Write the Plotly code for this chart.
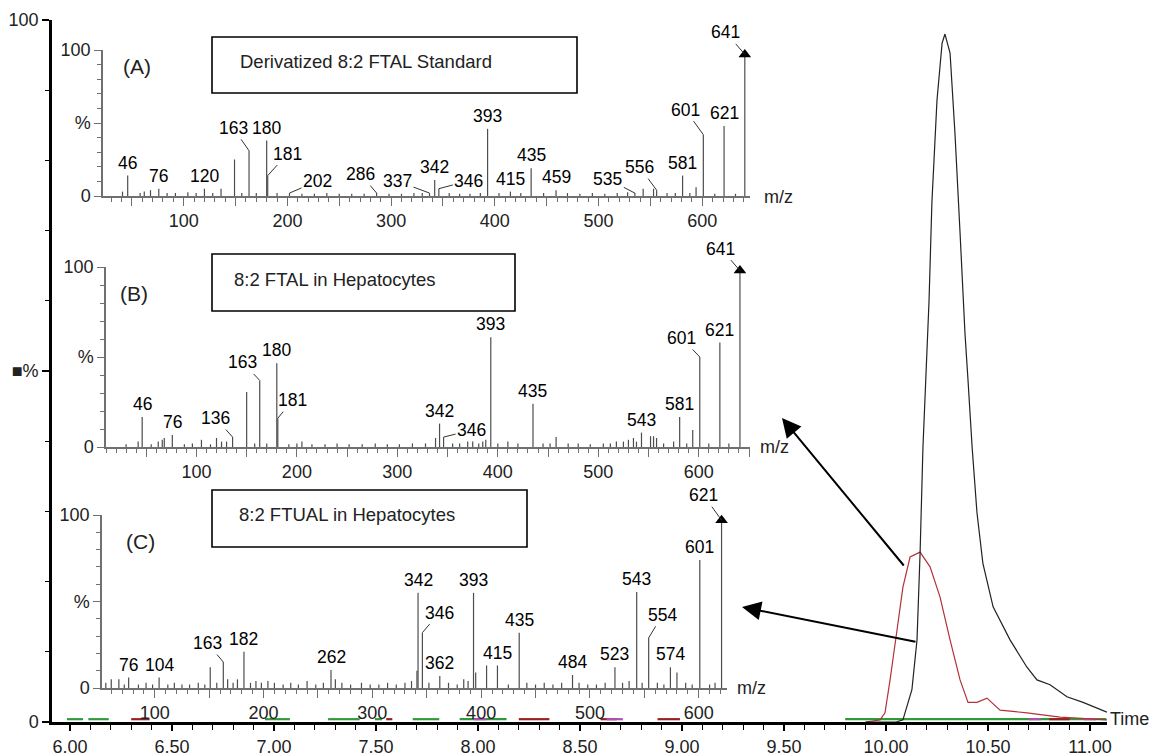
import plotly.graph_objects as go

W, H = 1152, 756

# ---------------- chromatogram data (time in min, relative intensity %) ----------------
ftal_time = [9.90, 10.05, 10.083, 10.127, 10.152, 10.167, 10.181, 10.196, 10.211, 10.225, 10.25,
             10.275, 10.289, 10.314, 10.338, 10.363, 10.387, 10.402, 10.422, 10.446, 10.475,
             10.525, 10.608, 10.691, 10.74, 10.804, 10.887, 10.966, 11.083]
ftal_int = [0, 0, 0.3, 4.6, 11.7, 24, 39, 48.7, 60, 74, 88.6,
            96.7, 98, 95.3, 83.9, 69.7, 55.4, 48.7, 39.2, 29.8, 22.6,
            16.4, 11.7, 7.8, 6.0, 5.3, 3.6, 2.8, 1.4]

ftual_time = [9.90, 9.971, 9.995, 10.020, 10.054, 10.083, 10.118, 10.167, 10.216, 10.265, 10.314,
              10.363, 10.402, 10.446, 10.495, 10.559, 10.691, 10.853, 11.083]
ftual_int = [0, 0.3, 1.3, 6.0, 13.1, 19.2, 23.5, 24.2, 22.1, 17.8, 11.7,
             6.0, 2.8, 2.8, 3.4, 1.7, 1.3, 0.7, 0.3]

# other ion traces that stay on the baseline (start, end in min)
green_segments = [(5.985, 6.064), (6.09, 6.19), (6.956, 7.078), (7.265, 7.42), (7.495, 7.53),
                  (7.68, 7.81), (7.91, 8.14), (9.80, 11.08)]
red_segments = [(6.30, 6.39), (7.55, 7.58), (8.20, 8.35), (8.60, 8.68), (8.88, 8.99),
                (10.80, 10.90)]
magenta_segments = [(7.98, 8.04), (8.63, 8.71), (10.70, 10.76), (10.97, 11.03)]
baseline_level = 0.4

main_ticks = [6.0, 6.5, 7.0, 7.5, 8.0, 8.5, 9.0, 9.5, 10.0, 10.5, 11.0]

# ---------------- mass spectra (m/z, relative intensity %) ----------------
a_mz = [41, 46, 58, 62, 68, 76, 84, 92, 104, 112, 120, 128, 136, 149, 156, 163, 170, 180, 181,
        190, 202, 214, 226, 238, 250, 262, 274, 286, 298, 310, 322, 330, 337, 342, 346, 356,
        366, 376, 386, 393, 404, 415, 425, 435, 447, 459, 470, 482, 494, 506, 518, 528, 535,
        543, 553, 556, 566, 574, 581, 588, 594, 601, 612, 621, 632, 641]
a_int = [3, 14, 2, 3, 4, 5, 2, 2, 2.5, 2, 5, 2, 5, 25, 2, 31, 2, 38, 14,
         2, 2, 1.5, 1.5, 2, 1.5, 1.5, 1.5, 2, 1.5, 1.5, 2, 2, 2, 11, 5, 2,
         1.5, 1.5, 2, 46, 2, 3, 2, 19, 2, 4, 2, 1.5, 2, 1.5, 2, 2.5, 2,
         5, 5, 4, 2, 2, 14, 2, 6, 42, 1.5, 48, 1.5, 97]
a_direct = [46, 76, 120, 180, 342, 393, 415, 435, 459, 581, 621]
a_leader = [163, 181, 202, 286, 337, 346, 535, 556, 601, 641]
a_base = 641

b_mz = [30, 42, 46, 55, 62, 66, 68, 76, 88, 96, 105, 114, 120, 125, 130, 136, 150, 158, 163,
        170, 180, 181, 192, 200, 205, 215, 228, 240, 252, 265, 278, 290, 302, 315, 328, 338,
        342, 346, 355, 362, 370, 375, 381, 385, 388, 393, 400, 410, 420, 435, 445, 452, 458,
        470, 480, 492, 505, 512, 518, 525, 530, 535, 538, 543, 552, 555, 558, 565, 575, 581,
        588, 594, 601, 610, 621, 630, 641]
b_int = [1.5, 3, 16.7, 1.5, 3, 4, 5, 6.7, 1.5, 2, 4, 1.5, 5, 3, 3, 5.5, 30.6, 2, 37,
         2, 46.5, 16, 1.5, 2, 3, 1.5, 1.5, 2, 1.5, 1.5, 2, 1.5, 1.5, 2, 2, 5,
         13, 5.5, 2, 2, 3, 3, 2, 3, 4, 61, 2, 3, 2, 24, 2, 2, 5.5,
         2, 2, 1.5, 2, 2, 3, 3, 4, 5, 3, 8, 6, 6, 5, 2, 3, 16.7,
         2, 9.4, 50, 2, 58, 2, 98]
b_direct = [46, 76, 180, 342, 393, 435, 543, 581, 621]
b_leader = [136, 163, 181, 346, 601, 641]
b_base = 641

c_mz = [55, 60, 67, 72, 76, 85, 92, 98, 104, 112, 118, 125, 132, 140, 146, 151, 157, 163, 167,
        172, 176, 182, 188, 193, 198, 204, 210, 218, 225, 232, 240, 248, 255, 262, 266, 272,
        280, 290, 298, 306, 314, 322, 330, 336, 341, 342, 346, 352, 362, 370, 378, 384, 388,
        393, 395, 405, 415, 425, 435, 442, 450, 458, 466, 474, 484, 490, 498, 506, 514, 523,
        530, 536, 543, 548, 554, 562, 568, 574, 580, 588, 594, 601, 610, 615, 621]
c_int = [3, 5, 5, 2, 6, 2, 3, 2, 6, 2, 3, 2, 2, 3, 2, 12, 3, 15, 5,
         3, 5, 21, 3, 4, 3, 4, 3, 2, 3, 2, 4, 2, 3, 10.4, 5, 3,
         2, 3, 2, 2, 3, 2, 3, 4, 10, 55, 32, 3, 7, 3, 2, 5, 4,
         55, 9, 13, 13, 2, 32, 3, 2, 3, 2, 3, 7.5, 3, 2, 2, 3, 12,
         3, 4, 55.5, 3, 29, 3, 2, 12, 9, 3, 2, 74, 2, 3, 97]
c_direct = [76, 104, 182, 262, 342, 362, 393, 415, 435, 484, 523, 543, 574, 601]
c_leader = [163, 346, 554, 621]
c_base = 621

# ---------------- layout / style helpers ----------------
FONT = "Liberation Sans, Arial, sans-serif"
STEM = "#4d4d4d"
INSET_AXIS = "#707070"


def PX(x):
    return x / W


def PY(y):
    return 1 - y / H


# label offsets (pixels from peak top) for labels drawn with a leader line
leader_offsets = {
    "a": {163: (-16, -23), 181: (20, -22), 202: (28, -12), 286: (-16, -19), 337: (-32, -12),
          346: (30, -8), 535: (-27, -14), 556: (-17, -23), 601: (-18, -25), 641: (-19, -22)},
    "b": {136: (-17, -19), 163: (-17, -18), 181: (15, -18), 346: (28, -7), 601: (-18, -19),
          641: (-19, -22)},
    "c": {163: (-16, -19), 346: (17, -20), 554: (14, -23), 621: (-18, -25)},
}


def stems(mz, inten):
    xs, ys = [], []
    for m, v in zip(mz, inten):
        xs += [m, m, None]
        ys += [0, v, None]
    return xs, ys


def segs(pairs, level):
    xs, ys = [], []
    for a, b in pairs:
        xs += [a, b, None]
        ys += [level, level, None]
    return xs, ys


fig = go.Figure()

# baseline traces
for pairs, col in [(green_segments, "#2e9a3a"), (red_segments, "#9a2020"),
                   (magenta_segments, "#b050b0")]:
    sx, sy = segs(pairs, baseline_level)
    fig.add_trace(go.Scatter(x=sx, y=sy, mode="lines", line=dict(color=col, width=2.2),
                             xaxis="x", yaxis="y", hoverinfo="skip", showlegend=False))

# main chromatogram
fig.add_trace(go.Scatter(x=ftual_time, y=ftual_int, mode="lines",
                         line=dict(color="#b2323a", width=1.2),
                         xaxis="x", yaxis="y", showlegend=False))
fig.add_trace(go.Scatter(x=ftal_time, y=ftal_int, mode="lines",
                         line=dict(color="#222222", width=1.2),
                         xaxis="x", yaxis="y", showlegend=False))

annotations = []
insets = [
    ("a", a_mz, a_int, a_direct, a_leader, a_base, "x2", "y2"),
    ("b", b_mz, b_int, b_direct, b_leader, b_base, "x3", "y3"),
    ("c", c_mz, c_int, c_direct, c_leader, c_base, "x4", "y4"),
]
for key, mz, inten, direct, leader, base, xa, ya in insets:
    xs, ys = stems(mz, inten)
    fig.add_trace(go.Scatter(x=xs, y=ys, mode="lines", line=dict(color=STEM, width=1.2),
                             xaxis=xa, yaxis=ya, hoverinfo="skip", showlegend=False))
    bi = mz.index(base)
    fig.add_trace(go.Scatter(x=[base], y=[inten[bi]], mode="markers",
                             marker=dict(symbol="triangle-up", size=11, color="black"),
                             xaxis=xa, yaxis=ya, cliponaxis=False, showlegend=False))
    lookup = dict(zip(mz, inten))
    for m in direct:
        annotations.append(dict(x=m, y=lookup[m], xref=xa, yref=ya, text=str(m),
                                showarrow=False, yanchor="bottom", yshift=1,
                                font=dict(family=FONT, size=17.5, color="black")))
    for m in leader:
        dx, dy = leader_offsets[key][m]
        annotations.append(dict(x=m, y=lookup[m], xref=xa, yref=ya, text=str(m),
                                showarrow=True, arrowhead=0, arrowwidth=1,
                                arrowcolor="#333", ax=dx, ay=dy, standoff=0,
                                font=dict(family=FONT, size=17.5, color="black")))

# boxes with titles
boxes = [
    ((212, 37, 577, 93), "Derivatized 8:2 FTAL Standard", (238, 62)),
    ((212, 254, 515, 311), "8:2 FTAL in Hepatocytes", (232, 279)),
    ((212, 490, 527, 547), "8:2 FTUAL in Hepatocytes", (237, 514)),
]
shapes = []
for (x0, y0, x1, y1), txt, (tx, ty) in boxes:
    shapes.append(dict(type="rect", xref="paper", yref="paper", x0=PX(x0), x1=PX(x1),
                       y0=PY(y1), y1=PY(y0), line=dict(color="black", width=1.6)))
    annotations.append(dict(x=PX(tx), y=PY(ty), xref="paper", yref="paper", text=txt,
                            showarrow=False, xanchor="left", yanchor="middle",
                            font=dict(family=FONT, size=18.5, color="#222")))

for txt, (tx, ty) in [("(A)", (137, 67)), ("(B)", (134, 293)), ("(C)", (140, 541))]:
    annotations.append(dict(x=PX(tx), y=PY(ty), xref="paper", yref="paper", text=txt,
                            showarrow=False, xanchor="center", yanchor="middle",
                            font=dict(family=FONT, size=21, color="#222")))

for (tx, ty) in [(762, 197), (758, 447), (735, 688)]:
    annotations.append(dict(x=PX(tx), y=PY(ty), xref="paper", yref="paper", text="m/z",
                            showarrow=False, xanchor="left", yanchor="middle",
                            font=dict(family=FONT, size=18, color="#222")))

annotations.append(dict(x=PX(1108), y=PY(719), xref="paper", yref="paper", text="Time",
                        showarrow=False, xanchor="left", yanchor="middle",
                        font=dict(family=FONT, size=18, color="#222")))

# arrows from the chromatographic peaks to the spectra
for (hx, hy, tx, ty) in [(782, 418, 905, 567), (742, 607, 917, 642)]:
    annotations.append(dict(x=PX(hx), y=PY(hy), xref="paper", yref="paper", text="",
                            showarrow=True, arrowhead=2, arrowsize=1.9, arrowwidth=2,
                            arrowcolor="black", ax=tx - hx, ay=ty - hy, standoff=0))


def inset_axes(x0, x1, r0, r1, yb, yt):
    xa = dict(domain=[PX(x0), PX(x1)], range=[r0, r1], showline=True, linecolor=INSET_AXIS,
              linewidth=1.5, ticks="outside", tickcolor=INSET_AXIS, ticklen=8, tickwidth=1.3,
              tickmode="array", tickvals=list(range(50, 700, 50)),
              ticktext=[str(v) if v % 100 == 0 else "" for v in range(50, 700, 50)],
              minor=dict(tickmode="linear", tick0=0, dtick=10, ticks="outside", ticklen=4,
                         tickcolor=INSET_AXIS, tickwidth=1),
              showgrid=False, zeroline=False, automargin=False,
              tickfont=dict(family=FONT, size=18, color="#222"))
    ya = dict(domain=[PY(yb), PY(yt)], range=[0, 100], showline=True, linecolor=INSET_AXIS,
              linewidth=1.5, ticks="outside", tickcolor=INSET_AXIS, ticklen=7, tickwidth=1.3,
              tickmode="array", tickvals=[0, 50, 100], ticktext=["0", "%", "100"],
              minor=dict(tickmode="linear", tick0=0, dtick=10, ticks="outside", ticklen=4,
                         tickcolor=INSET_AXIS, tickwidth=1),
              showgrid=False, zeroline=False, automargin=False,
              tickfont=dict(family=FONT, size=18, color="#222"))
    return xa, ya


xa2, ya2 = inset_axes(103, 750, 22.2, 646, 196, 50)
xa3, ya3 = inset_axes(106, 750, 10, 651, 447, 267)
xa4, ya4 = inset_axes(102, 727, 51.5, 626, 688, 515)
xa2["anchor"], ya2["anchor"] = "y2", "x2"
xa3["anchor"], ya3["anchor"] = "y3", "x3"
xa4["anchor"], ya4["anchor"] = "y4", "x4"

t_left = 6 + (52 - 70) / 204
t_right = 6 + (1107 - 70) / 204

fig.update_layout(
    width=W, height=H, autosize=False,
    margin=dict(l=0, r=0, t=0, b=0, pad=0, autoexpand=False),
    paper_bgcolor="white", plot_bgcolor="rgba(0,0,0,0)",
    showlegend=False,
    xaxis=dict(domain=[PX(52), PX(1107)], range=[t_left, t_right], anchor="y",
               showline=True, linecolor="black", linewidth=3,
               ticks="outside", tickcolor="black", ticklen=6, tickwidth=1.5,
               tickmode="array", tickvals=main_ticks, ticktext=[f"{v:.2f}" for v in main_ticks],
               minor=dict(tickmode="linear", tick0=6.0, dtick=0.1, ticks="outside", ticklen=5,
                          tickcolor="black", tickwidth=1.2),
               showgrid=False, zeroline=False, automargin=False,
               tickfont=dict(family=FONT, size=18, color="#222")),
    yaxis=dict(domain=[PY(722), PY(20)], range=[0, 100], anchor="x",
               showline=True, linecolor="black", linewidth=2.5,
               ticks="outside", tickcolor="black", ticklen=7, tickwidth=1.5,
               tickmode="array", tickvals=[0, 50, 100], ticktext=["0", "■%", "100"],
               minor=dict(tickmode="linear", tick0=0, dtick=10, ticks="outside", ticklen=4,
                          tickcolor="black", tickwidth=1.2),
               showgrid=False, zeroline=False, automargin=False,
               tickfont=dict(family=FONT, size=18, color="#222")),
    xaxis2=xa2, yaxis2=ya2, xaxis3=xa3, yaxis3=ya3, xaxis4=xa4, yaxis4=ya4,
    annotations=annotations, shapes=shapes,
)

fig.write_html("out.html", config={"displayModeBar": False},
               post_script="document.body.style.margin='0';document.body.style.overflow='hidden';")
